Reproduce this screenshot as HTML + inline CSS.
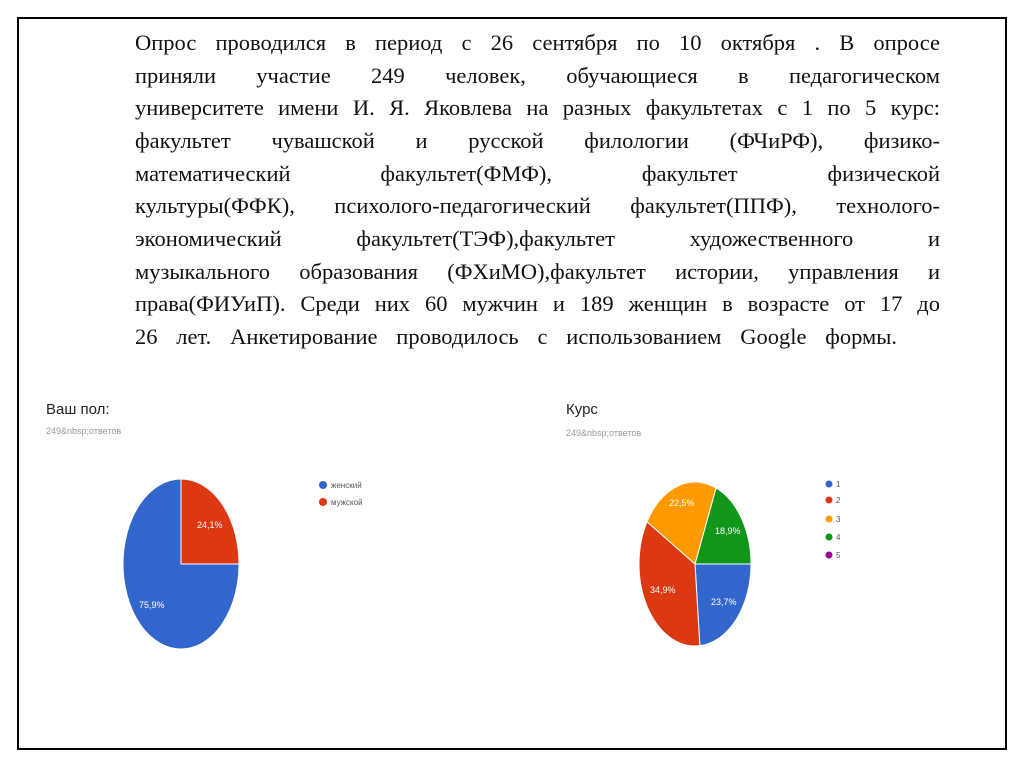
<!DOCTYPE html>
<html><head><meta charset="utf-8"><style>
body{margin:0;width:1024px;height:767px;background:#fff;position:relative;overflow:hidden;font-family:"Liberation Serif","Times New Roman",serif}
.frame{position:absolute;left:17px;top:17px;width:986px;height:729px;border:2px solid #000}
.t{position:absolute;left:135px;width:805px;font-size:22.5px;line-height:22px;color:#111;white-space:nowrap}
.j{text-align:justify;text-align-last:justify}
.s{font-family:"Liberation Sans",sans-serif;position:absolute}
</style></head><body>
<div class="frame"></div>
<div class="t j" style="top:32px">Опрос проводился в период с 26 сентября по 10 октября . В опросе</div>
<div class="t j" style="top:65px">приняли участие 249 человек, обучающиеся в педагогическом</div>
<div class="t j" style="top:97px">университете имени И. Я. Яковлева на разных факультетах с 1 по 5 курс:</div>
<div class="t j" style="top:130px">факультет чувашской и русской филологии (ФЧиРФ), физико-</div>
<div class="t j" style="top:163px">математический факультет(ФМФ), факультет физической</div>
<div class="t j" style="top:195px">культуры(ФФК), психолого-педагогический факультет(ППФ), технолого-</div>
<div class="t j" style="top:228px">экономический факультет(ТЭФ),факультет художественного и</div>
<div class="t j" style="top:261px">музыкального образования (ФХиМО),факультет истории, управления и</div>
<div class="t j" style="top:293px">права(ФИУиП). Среди них 60 мужчин и 189 женщин в возрасте от 17 до</div>
<div class="t j" style="top:326px;width:762px">26 лет. Анкетирование проводилось с использованием Google формы.</div>

<div class="s" style="left:46px;top:401px;font-size:15px;color:#222">Ваш пол:</div>
<div class="s" style="left:46px;top:426px;font-size:9px;color:#999">249&amp;nbsp;ответов</div>
<div class="s" style="left:566px;top:401px;font-size:15px;color:#222">Курс</div>
<div class="s" style="left:566px;top:428px;font-size:9px;color:#999">249&amp;nbsp;ответов</div>

<svg width="1024" height="767" style="position:absolute;left:0;top:0">
<g transform="translate(181,564) scale(58,85)" stroke="#fff" stroke-width="1">
<path d="M0,0 L1,0 A1,1 0 1 1 0,-1 Z" fill="#3366cc" vector-effect="non-scaling-stroke"/>
<path d="M0,0 L0,-1 A1,1 0 0 1 1,0 Z" fill="#dc3912" vector-effect="non-scaling-stroke"/>
</g>
<g transform="translate(695,564) scale(56,82)" stroke="#fff" stroke-width="1">
<path d="M0,0 L0.375,-0.927 A1,1 0 0 1 1,0 Z" fill="#109618" vector-effect="non-scaling-stroke"/>
<path d="M0,0 L1,0 A1,1 0 0 1 0.087,0.996 Z" fill="#3366cc" vector-effect="non-scaling-stroke"/>
<path d="M0,0 L0.087,0.996 A1,1 0 0 1 -0.857,-0.515 Z" fill="#dc3912" vector-effect="non-scaling-stroke"/>
<path d="M0,0 L-0.857,-0.515 A1,1 0 0 1 0.375,-0.927 Z" fill="#ff9900" vector-effect="non-scaling-stroke"/>
</g>
<g font-family="Liberation Sans,sans-serif" font-size="9" fill="#fff">
<text x="197" y="528">24,1%</text>
<text x="139" y="608">75,9%</text>
<text x="669" y="506">22,5%</text>
<text x="715" y="534">18,9%</text>
<text x="650" y="593">34,9%</text>
<text x="711" y="605">23,7%</text>
</g>
<g font-family="Liberation Sans,sans-serif" font-size="8" fill="#555">
<circle cx="323" cy="485" r="4" fill="#3366cc"/><text x="331" y="488">женский</text>
<circle cx="323" cy="502" r="4" fill="#dc3912"/><text x="331" y="505">мужской</text>
<circle cx="829" cy="484" r="3.5" fill="#3366cc"/><text x="836" y="487">1</text>
<circle cx="829" cy="500" r="3.5" fill="#dc3912"/><text x="836" y="503">2</text>
<circle cx="829" cy="519" r="3.5" fill="#ff9900"/><text x="836" y="522">3</text>
<circle cx="829" cy="537" r="3.5" fill="#109618"/><text x="836" y="540">4</text>
<circle cx="829" cy="555" r="3.5" fill="#990099"/><text x="836" y="558">5</text>
</g>
</svg>
</body></html>
